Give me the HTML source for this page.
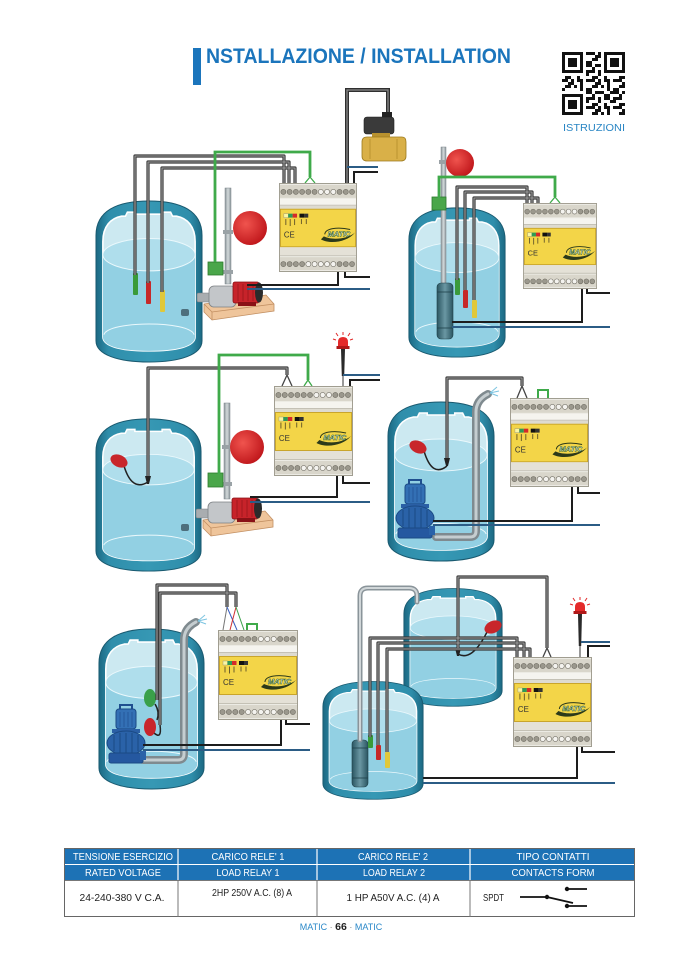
<!DOCTYPE html>
<html><head><meta charset="utf-8"><style>
html,body{margin:0;padding:0;background:#fff;}
svg{display:block;}
text{font-family:"Liberation Sans",sans-serif;}
</style></head><body>
<svg width="678" height="959" viewBox="0 0 678 959" xmlns="http://www.w3.org/2000/svg">
<defs>
 <linearGradient id="tg" x1="0" x2="1" y1="0" y2="0">
  <stop offset="0" stop-color="#1c6983"/><stop offset="0.12" stop-color="#2f8eab"/>
  <stop offset="0.5" stop-color="#3698b4"/><stop offset="0.88" stop-color="#2f8eab"/>
  <stop offset="1" stop-color="#1c6983"/>
 </linearGradient>
 <radialGradient id="rb" cx="0.38" cy="0.38" r="0.7">
  <stop offset="0" stop-color="#f0544e"/><stop offset="1" stop-color="#bd1318"/>
 </radialGradient>
 <linearGradient id="pg" x1="0" x2="1"><stop offset="0" stop-color="#8b959a"/><stop offset="0.5" stop-color="#d3d9db"/><stop offset="1" stop-color="#8b959a"/></linearGradient>
 <linearGradient id="sg" x1="0" x2="1"><stop offset="0" stop-color="#2a5561"/><stop offset="0.5" stop-color="#6a97a3"/><stop offset="1" stop-color="#2a5561"/></linearGradient>
 <pattern id="qr" width="27" height="27" patternUnits="userSpaceOnUse" x="562" y="52">
  <rect width="27" height="27" fill="#fff"/>
  <g fill="#111">
   <rect x="0" y="0" width="6" height="3"/><rect x="9" y="0" width="3" height="6"/>
   <rect x="15" y="0" width="6" height="3"/><rect x="24" y="0" width="3" height="3"/>
   <rect x="3" y="6" width="6" height="3"/><rect x="12" y="6" width="3" height="3"/>
   <rect x="18" y="3" width="3" height="9"/><rect x="0" y="9" width="3" height="6"/>
   <rect x="6" y="12" width="9" height="3"/><rect x="24" y="9" width="3" height="6"/>
   <rect x="15" y="15" width="6" height="6"/><rect x="0" y="18" width="6" height="3"/>
   <rect x="9" y="18" width="3" height="6"/><rect x="21" y="21" width="6" height="3"/>
   <rect x="3" y="24" width="6" height="3"/><rect x="15" y="24" width="3" height="3"/>
   <rect x="24" y="18" width="3" height="3"/><rect x="6" y="3" width="3" height="3"/>
   <rect x="12" y="12" width="3" height="3"/><rect x="21" y="12" width="3" height="3"/>
   <rect x="3" y="15" width="3" height="3"/>
  </g>
 </pattern>

 <symbol id="tank" viewBox="0 0 110 162" preserveAspectRatio="none">
  <path d="M1,36 C1,12 22,2 55,2 C88,2 109,12 109,36 L109,140 C109,154 86,161 55,161 C24,161 1,154 1,140 Z" fill="url(#tg)" stroke="#19596f" stroke-width="1"/>
  <path d="M8,42 C8,27 16,19 27,17 L31,17 L33,13 L41,13 L41,15 L69,15 L69,13 L77,13 L79,17 L83,17 C94,19 102,27 102,42 L102,136 C102,146 82,150 55,150 C28,150 8,146 8,136 Z" fill="#cce9f1" stroke="#ffffff" stroke-width="1.6"/>
  <path d="M8,55 A47,16 0 0,1 102,55 L102,136 C102,146 82,150 55,150 C28,150 8,146 8,136 Z" fill="#92d0e3"/>
  <ellipse cx="55" cy="55" rx="47" ry="16" fill="#afdeec" stroke="#eaf8fc" stroke-width="1"/>
  <path d="M9,134 C14,120 96,120 101,134" fill="none" stroke="#eaf8fc" stroke-width="1"/>
 </symbol>

 <symbol id="ctrl" viewBox="0 0 80 90" preserveAspectRatio="none">
  <rect x="0.5" y="0.5" width="79" height="89" fill="#ecebe4" stroke="#a09d90"/>
  <rect x="1" y="2" width="78" height="13" fill="#d9d6cb"/>
  <g stroke="#6f6c62" stroke-width="0.6" fill="#9b988d">
   <circle cx="4.5" cy="9" r="2.6"/><circle cx="10.9" cy="9" r="2.6"/><circle cx="17.3" cy="9" r="2.6"/>
   <circle cx="23.7" cy="9" r="2.6"/><circle cx="30.1" cy="9" r="2.6"/><circle cx="36.5" cy="9" r="2.6"/>
   <circle cx="42.9" cy="9" r="2.6" fill="#f4f3ef"/><circle cx="49.3" cy="9" r="2.6" fill="#f4f3ef"/><circle cx="55.7" cy="9" r="2.6" fill="#f4f3ef"/>
   <circle cx="62.1" cy="9" r="2.6"/><circle cx="68.5" cy="9" r="2.6"/><circle cx="74.9" cy="9" r="2.6"/>
  </g>
  <rect x="1" y="16" width="78" height="6" fill="#f5f4ef"/>
  <line x1="1" y1="22.5" x2="79" y2="22.5" stroke="#c4c1b5"/>
  <rect x="1" y="23" width="78" height="3" fill="#dedbd0"/>
  <rect x="1.5" y="26.5" width="77" height="38" fill="#f3d548" stroke="#c9a52b"/>
  <rect x="5" y="31" width="4.5" height="4" fill="#fbf6a0" stroke="#888" stroke-width="0.4"/>
  <rect x="9.5" y="31" width="4.5" height="4" fill="#2f9a55"/>
  <rect x="14" y="31" width="4.5" height="4" fill="#d52a2a"/>
  <rect x="21" y="31" width="5" height="4" fill="#111"/>
  <rect x="26" y="31" width="4" height="4" fill="#333"/>
  <g fill="#6b5d2a">
   <rect x="6.5" y="36.5" width="1" height="6"/><rect x="11" y="36.5" width="1" height="7"/>
   <rect x="15.5" y="36.5" width="1" height="6"/><rect x="22.5" y="36.5" width="1" height="5"/>
   <rect x="27.5" y="36.5" width="1" height="5"/>
  </g>
  <text x="5" y="55" font-size="8" fill="#333">CE</text>
  <path d="M43,57 C52,62 70,60 78,50 C70,57 54,58 46,54 Z" fill="#2c3a1a"/>
  <path d="M47,52 C47,46 60,44 73,47" fill="none" stroke="#2c3a1a" stroke-width="1"/>
  <text x="50" y="54" font-size="7.5" font-weight="bold" font-style="italic" fill="#ffffff" stroke="#2a5d2a" stroke-width="0.5">MATIC</text>
  <rect x="1" y="65" width="78" height="8" fill="#e4e1d7"/>
  <line x1="1" y1="73.5" x2="79" y2="73.5" stroke="#c4c1b5"/>
  <rect x="1" y="75" width="78" height="13" fill="#d9d6cb"/>
  <g stroke="#6f6c62" stroke-width="0.6" fill="#9b988d">
   <circle cx="4.5" cy="82" r="2.6"/><circle cx="10.9" cy="82" r="2.6"/><circle cx="17.3" cy="82" r="2.6"/>
   <circle cx="23.7" cy="82" r="2.6"/>
   <circle cx="30.1" cy="82" r="2.6" fill="#f4f3ef"/><circle cx="36.5" cy="82" r="2.6" fill="#f4f3ef"/>
   <circle cx="42.9" cy="82" r="2.6" fill="#f4f3ef"/><circle cx="49.3" cy="82" r="2.6" fill="#f4f3ef"/><circle cx="55.7" cy="82" r="2.6" fill="#f4f3ef"/>
   <circle cx="62.1" cy="82" r="2.6"/><circle cx="68.5" cy="82" r="2.6"/><circle cx="74.9" cy="82" r="2.6"/>
  </g>
 </symbol>

 <symbol id="bp" viewBox="0 0 40 62" preserveAspectRatio="none">
  <path d="M14,7 V2 H26 V7" stroke="#1f4f8f" stroke-width="2" fill="none"/>
  <rect x="10" y="6" width="20" height="20" rx="3" fill="#3370b5" stroke="#1b4a85"/>
  <g stroke="#24589a" stroke-width="1"><line x1="14" y1="9" x2="14" y2="24"/><line x1="18" y1="9" x2="18" y2="24"/><line x1="22" y1="9" x2="22" y2="24"/><line x1="26" y1="9" x2="26" y2="24"/></g>
  <rect x="6" y="26" width="28" height="4" fill="#2a5fa5"/>
  <ellipse cx="20" cy="40" rx="19" ry="12" fill="#2a62a8" stroke="#1b4a85"/>
  <g stroke="#1b4a85" stroke-width="1"><line x1="8" y1="32" x2="8" y2="48"/><line x1="14" y1="30" x2="14" y2="50"/><line x1="20" y1="30" x2="20" y2="50"/><line x1="26" y1="30" x2="26" y2="50"/><line x1="32" y1="32" x2="32" y2="48"/></g>
  <rect x="3" y="50" width="34" height="10" rx="2" fill="#2558a0" stroke="#1b4a85"/>
  <rect x="34" y="48" width="6" height="9" fill="#2a62a8"/>
 </symbol>

 <g id="spump">
  <polygon points="204,304 266,295 274,304 274,311 212,320 204,312" fill="#efc59b" stroke="#c28f62" stroke-width="0.8"/>
  <polyline points="204,304 212,312 274,304" fill="none" stroke="#c28f62" stroke-width="0.8"/>
  <line x1="212" y1="312" x2="212" y2="320" stroke="#c28f62" stroke-width="0.8"/>
  <rect x="197" y="293" width="15" height="9" rx="1.5" fill="#a9adb0" stroke="#7a7e81" stroke-width="0.6"/>
  <rect x="209" y="286" width="27" height="21" rx="5" fill="#c3c6c9" stroke="#7c8084" stroke-width="0.8"/>
  <rect x="233" y="282" width="26" height="21" rx="2" fill="#c7232a" stroke="#8a1116" stroke-width="0.8"/>
  <g stroke="#8a1116" stroke-width="0.6"><line x1="238" y1="284" x2="238" y2="301"/><line x1="243" y1="284" x2="243" y2="301"/><line x1="248" y1="284" x2="248" y2="301"/><line x1="253" y1="284" x2="253" y2="301"/></g>
  <ellipse cx="259" cy="292.5" rx="4" ry="10" fill="#2b2b2b"/>
  <rect x="238" y="302" width="18" height="4" fill="#8a1116"/>
 </g>

 <g id="tubes" fill="none" stroke-linejoin="round">
  <path d="M135,275 V156 H284 V183"/><path d="M148,283 V162 H289 V183"/><path d="M162,292 V168 H295 V183"/>
  <path d="M457,280 V187 H527 V203"/><path d="M465,290 V192 H532 V203"/><path d="M474,300 V198 H538 V203"/>
  <path d="M370,737 V638 H517 V657"/><path d="M378,745 V643 H524 V657"/><path d="M387,752 V649 H530 V657"/>
  <path d="M157,700 V585 H227 V607"/><path d="M160,725 V593 H236 V607"/>
  <path d="M148,476 V368 H287 V375"/>
  <path d="M447,458 V378 H522 V386"/>
  <path d="M458,648 V577 H547 V648"/>
 </g>
</defs>

<!-- Title -->
<rect x="193" y="48" width="8" height="37" fill="#1b75bc"/>
<text x="206" y="63" font-size="21" font-weight="bold" fill="#1b75bc" textLength="305" lengthAdjust="spacingAndGlyphs">NSTALLAZIONE / INSTALLATION</text>

<!-- QR -->
<rect x="562" y="52" width="63" height="63" fill="url(#qr)"/>
<g>
 <rect x="562" y="52" width="24" height="24" fill="#fff"/><rect x="562" y="52" width="21" height="21" fill="#111"/><rect x="565" y="55" width="15" height="15" fill="#fff"/><rect x="568" y="58" width="9" height="9" fill="#111"/>
 <rect x="601" y="52" width="24" height="24" fill="#fff"/><rect x="604" y="52" width="21" height="21" fill="#111"/><rect x="607" y="55" width="15" height="15" fill="#fff"/><rect x="610" y="58" width="9" height="9" fill="#111"/>
 <rect x="562" y="91" width="24" height="24" fill="#fff"/><rect x="562" y="94" width="21" height="21" fill="#111"/><rect x="565" y="97" width="15" height="15" fill="#fff"/><rect x="568" y="100" width="9" height="9" fill="#111"/>
</g>
<text x="563" y="131" font-size="10" fill="#2a86c4" textLength="62" lengthAdjust="spacingAndGlyphs">ISTRUZIONI</text>

<!-- Tanks -->
<use href="#tank" x="95" y="199" width="108" height="164"/>
<use href="#tank" x="408" y="206" width="98" height="152"/>
<use href="#tank" x="95" y="417" width="107" height="155"/>
<use href="#tank" x="387" y="400" width="108" height="162"/>
<use href="#tank" x="98" y="627" width="107" height="163"/>
<use href="#tank" x="403" y="587" width="100" height="120"/>
<use href="#tank" x="322" y="680" width="102" height="120"/>

<!-- nubs -->
<rect x="181" y="309" width="8" height="7" rx="2" fill="#4d6f7d"/>
<rect x="181" y="524" width="8" height="7" rx="2" fill="#4d6f7d"/>

<!-- surface pumps -->
<use href="#spump"/>
<use href="#spump" transform="translate(-1,216)"/>

<!-- vertical pipes + balls -->
<rect x="225" y="188" width="6" height="96" fill="url(#pg)" stroke="#7d868a" stroke-width="0.5"/>
<rect x="223" y="230" width="10" height="4" fill="#9aa2a6"/><rect x="223" y="270" width="10" height="4" fill="#9aa2a6"/>
<circle cx="250" cy="228" r="17" fill="url(#rb)"/>
<rect x="208" y="262" width="15" height="13" fill="#4aa64a" stroke="#2d7a2d" stroke-width="0.8"/>

<rect x="224" y="403" width="6" height="96" fill="url(#pg)" stroke="#7d868a" stroke-width="0.5"/>
<rect x="222" y="445" width="10" height="4" fill="#9aa2a6"/><rect x="222" y="482" width="10" height="4" fill="#9aa2a6"/>
<circle cx="247" cy="447" r="17" fill="url(#rb)"/>
<rect x="208" y="473" width="15" height="14" fill="#4aa64a" stroke="#2d7a2d" stroke-width="0.8"/>

<rect x="441" y="147" width="5" height="137" fill="url(#pg)" stroke="#7d868a" stroke-width="0.5"/>
<rect x="439" y="160" width="9" height="4" fill="#9aa2a6"/>
<circle cx="460" cy="163" r="14" fill="url(#rb)"/>
<rect x="432" y="197" width="14" height="13" fill="#4aa64a" stroke="#2d7a2d" stroke-width="0.8"/>

<!-- submersible cylinders -->
<rect x="437" y="283" width="16" height="56" rx="4" fill="url(#sg)" stroke="#1f414a" stroke-width="0.6"/>
<g stroke="#1f414a" stroke-width="0.8"><line x1="437" y1="292" x2="453" y2="292"/><line x1="437" y1="328" x2="453" y2="328"/></g>
<rect x="352" y="740" width="16" height="47" rx="4" fill="url(#sg)" stroke="#1f414a" stroke-width="0.6"/>
<g stroke="#1f414a" stroke-width="0.8"><line x1="352" y1="748" x2="368" y2="748"/><line x1="352" y1="778" x2="368" y2="778"/></g>

<!-- discharge pipes -->
<g fill="none" stroke-linecap="round">
 <path d="M436,537 H470 Q476,537 476,531 V412 Q476,400 488,394" stroke="#7f8a8f" stroke-width="8"/>
 <path d="M436,537 H470 Q476,537 476,531 V412 Q476,400 488,394" stroke="#c5cdd0" stroke-width="3"/>
 <path d="M143,760 H178 Q184,760 184,754 V640 Q184,628 196,622" stroke="#7f8a8f" stroke-width="8"/>
 <path d="M143,760 H178 Q184,760 184,754 V640 Q184,628 196,622" stroke="#c5cdd0" stroke-width="3"/>
 <path d="M360,740 V596 Q360,588 368,588 H409 Q417,588 417,596 V602" stroke="#8a949a" stroke-width="5"/>
 <path d="M360,740 V596 Q360,588 368,588 H409 Q417,588 417,596 V602" stroke="#d0d6d8" stroke-width="2"/>
</g>
<g stroke="#7cc4e0" stroke-width="1">
 <line x1="490" y1="393" x2="497" y2="387"/><line x1="490" y1="393" x2="499" y2="391"/><line x1="490" y1="393" x2="498" y2="396"/>
 <line x1="198" y1="621" x2="205" y2="615"/><line x1="198" y1="621" x2="207" y2="619"/><line x1="198" y1="621" x2="206" y2="624"/>
</g>

<!-- blue pumps -->
<use href="#bp" x="395" y="478" width="40" height="62"/>
<use href="#bp" x="106" y="703" width="40" height="62"/>

<!-- floats -->
<g fill="none" stroke="#222" stroke-width="1.5">
 <path d="M124,466 Q132,492 148,482"/>
 <path d="M424,451 Q432,478 447,466"/>
 <path d="M487,632 Q472,662 458,654"/>
 <path d="M155,704 Q160,712 157,720"/>
 <path d="M154,733 Q162,740 160,725"/>
</g>
<ellipse cx="119" cy="461" rx="9" ry="6" transform="rotate(25 119 461)" fill="#c8262b"/>
<ellipse cx="418" cy="447" rx="9" ry="6" transform="rotate(25 418 447)" fill="#c8262b"/>
<ellipse cx="493" cy="627" rx="9" ry="6" transform="rotate(-25 493 627)" fill="#c8262b"/>
<ellipse cx="150" cy="698" rx="6" ry="9" fill="#3aa04a"/>
<ellipse cx="150" cy="727" rx="6" ry="9" fill="#c8262b"/>
<g fill="#222">
 <path d="M145,476 H151 L149,484 H147 Z"/>
 <path d="M444,458 H450 L448,466 H446 Z"/>
 <path d="M455,648 H461 L459,656 H457 Z"/>
</g>

<!-- probes -->
<rect x="133" y="273" width="5" height="22" rx="1" fill="#3a9a3a"/>
<rect x="146" y="281" width="5" height="23" rx="1" fill="#c62828"/>
<rect x="160" y="290" width="5" height="22" rx="1" fill="#e0c83a"/>
<rect x="455" y="278" width="5" height="17" rx="1" fill="#3a9a3a"/>
<rect x="463" y="290" width="5" height="18" rx="1" fill="#c62828"/>
<rect x="472" y="300" width="5" height="18" rx="1" fill="#e0c83a"/>
<rect x="368" y="735" width="5" height="13" rx="1" fill="#3a9a3a"/>
<rect x="376" y="745" width="5" height="15" rx="1" fill="#c62828"/>
<rect x="385" y="752" width="5" height="16" rx="1" fill="#e0c83a"/>

<!-- tube wires -->
<use href="#tubes" stroke="#3a3a3a" stroke-width="3.2"/>
<use href="#tubes" stroke="#9c9c9c" stroke-width="1.1"/>

<!-- green wires -->
<g fill="none" stroke="#3faa4a" stroke-width="2.8">
 <path d="M215,262 V152 H310 V177"/>
 <path d="M439,198 V177 H555 V197"/>
 <path d="M219,474 V355 H308 V380"/>
</g>
<g fill="none" stroke="#3faa4a" stroke-width="1.3">
 <path d="M310,177 L305,183 M310,177 L315,183"/>
 <path d="M555,197 L550,203 M555,197 L560,203"/>
 <path d="M308,380 L304,386 M308,380 L312,386"/>
</g>
<g fill="none" stroke="#444" stroke-width="1.3">
 <path d="M287,375 L282,386 M287,375 L292,386"/>
 <path d="M522,386 L517,398 M522,386 L527,398"/>
 <path d="M547,648 L543,657 M547,648 L551,657"/>
</g>
<!-- D5 colored fan -->
<g fill="none" stroke-width="1">
 <path d="M227,607 L223,630" stroke="#777"/>
 <path d="M227,607 L237,630" stroke="#3a5fc0"/>
 <path d="M236,607 L230,630" stroke="#d03030"/>
 <path d="M236,607 L244,630" stroke="#3aa04a"/>
</g>
<g fill="none" stroke="#3faa4a" stroke-width="2">
 <path d="M538,398 V390 H548 V398"/>
 <path d="M247,631 V624 H257 V631"/>
</g>

<!-- valve -->
<path d="M347,183 V90 H388 V115" fill="none" stroke="#2f2f2f" stroke-width="4"/>
<path d="M347,183 V90 H388 V115" fill="none" stroke="#8a8a8a" stroke-width="1.3"/>
<rect x="382" y="112" width="10" height="7" fill="#222"/>
<rect x="364" y="117" width="30" height="17" rx="3" fill="#3a3a3a" stroke="#1e1e1e" stroke-width="0.6"/>
<rect x="372" y="133" width="18" height="5" fill="#b8912e"/>
<path d="M362,142 Q362,137 367,137 H402 Q406,137 406,142 V156 Q406,161 401,161 H367 Q362,161 362,156 Z" fill="#d9b048" stroke="#9c7a1e" stroke-width="0.8"/>
<g stroke="#b58f2a" stroke-width="0.8"><line x1="370" y1="139" x2="370" y2="159"/><line x1="397" y1="139" x2="397" y2="159"/></g>

<!-- controllers -->
<use href="#ctrl" x="279" y="183" width="78" height="89"/>
<use href="#ctrl" x="523" y="203" width="74" height="86"/>
<use href="#ctrl" x="274" y="386" width="79" height="90"/>
<use href="#ctrl" x="510" y="398" width="79" height="89"/>
<use href="#ctrl" x="218" y="630" width="80" height="90"/>
<use href="#ctrl" x="513" y="657" width="79" height="90"/>

<!-- beacons -->
<g transform="translate(343,336)">
 <g stroke="#e02828" stroke-width="1"><line x1="0" y1="-1" x2="0" y2="-4"/><line x1="-5" y1="0" x2="-7" y2="-3"/><line x1="5" y1="0" x2="7" y2="-3"/><line x1="-7" y1="4" x2="-10" y2="3"/><line x1="7" y1="4" x2="10" y2="3"/></g>
 <path d="M-5,10 V6 Q-5,1 0,1 Q5,1 5,6 V10 Z" fill="#e42a2a"/>
 <rect x="-6.5" y="10" width="13" height="3" fill="#b01818"/>
 <path d="M-2,13 H2 L1.2,40 H-1.2 Z" fill="#2a2a2a"/>
 <line x1="0" y1="40" x2="0" y2="50" stroke="#555" stroke-width="1.2"/>
</g>
<g transform="translate(580,601)">
 <g stroke="#e02828" stroke-width="1"><line x1="0" y1="-1" x2="0" y2="-4"/><line x1="-5" y1="0" x2="-7" y2="-3"/><line x1="5" y1="0" x2="7" y2="-3"/><line x1="-7" y1="4" x2="-10" y2="3"/><line x1="7" y1="4" x2="10" y2="3"/></g>
 <path d="M-5,10 V6 Q-5,1 0,1 Q5,1 5,6 V10 Z" fill="#e42a2a"/>
 <rect x="-6.5" y="10" width="13" height="3" fill="#b01818"/>
 <path d="M-2,13 H2 L1.2,45 H-1.2 Z" fill="#2a2a2a"/>
 <line x1="0" y1="45" x2="0" y2="56" stroke="#555" stroke-width="1.2"/>
</g>

<!-- power lines -->
<g fill="none" stroke="#1d1d1d" stroke-width="2">
 <path d="M338,272 V285 H247"/><path d="M345,272 V277 H370"/><path d="M354,183 V172 H378"/>
 <path d="M582,289 V322 H452"/><path d="M587,289 V293 H610"/>
 <path d="M337,476 V497 H250"/><path d="M343,476 V483 H370"/><path d="M350,386 V380 H380"/>
 <path d="M572,487 V521 H433"/><path d="M578,487 V493 H600"/>
 <path d="M281,720 V745 H143"/><path d="M286,720 V724 H310"/>
 <path d="M577,747 V778 H423"/><path d="M582,747 V752 H615"/><path d="M588,657 V646 H610"/>
</g>
<g fill="none" stroke="#2b5c85" stroke-width="2">
 <path d="M247,289 H370"/><path d="M347,167 H378"/>
 <path d="M452,327 H610"/>
 <path d="M250,502 H370"/><path d="M343,375 H380"/>
 <path d="M433,525 H600"/>
 <path d="M143,750 H310"/>
 <path d="M423,783 H615"/><path d="M581,642 H610"/>
</g>

<!-- Table -->
<rect x="64" y="848" width="571" height="32" fill="#1d72b5"/>
<line x1="64" y1="864.5" x2="635" y2="864.5" stroke="#ffffff" stroke-width="1"/>
<g stroke="#ffffff" stroke-width="1.2">
 <line x1="178" y1="848" x2="178" y2="880"/><line x1="317" y1="848" x2="317" y2="880"/><line x1="470" y1="848" x2="470" y2="880"/>
</g>
<rect x="64.5" y="880.5" width="570" height="36" fill="#ffffff" stroke="#777" stroke-width="1"/>
<rect x="64.5" y="848.5" width="570" height="68" fill="none" stroke="#666" stroke-width="1"/>
<g stroke="#777" stroke-width="1">
 <line x1="178" y1="880" x2="178" y2="917"/><line x1="317" y1="880" x2="317" y2="917"/><line x1="470" y1="880" x2="470" y2="917"/>
</g>
<g fill="#ffffff" font-size="10" text-anchor="middle">
 <text x="123" y="860" textLength="100" lengthAdjust="spacingAndGlyphs">TENSIONE ESERCIZIO</text>
 <text x="248" y="860" textLength="73" lengthAdjust="spacingAndGlyphs">CARICO RELE' 1</text>
 <text x="393" y="860" textLength="70" lengthAdjust="spacingAndGlyphs">CARICO RELE' 2</text>
 <text x="553" y="860" textLength="73" lengthAdjust="spacingAndGlyphs">TIPO CONTATTI</text>
 <text x="123" y="876" textLength="76" lengthAdjust="spacingAndGlyphs">RATED VOLTAGE</text>
 <text x="248" y="876" textLength="63" lengthAdjust="spacingAndGlyphs">LOAD RELAY 1</text>
 <text x="394" y="876" textLength="62" lengthAdjust="spacingAndGlyphs">LOAD RELAY 2</text>
 <text x="553" y="876" textLength="83" lengthAdjust="spacingAndGlyphs">CONTACTS  FORM</text>
</g>
<g fill="#222" font-size="10.5" text-anchor="middle" font-weight="500">
 <text x="122" y="901" textLength="85" lengthAdjust="spacingAndGlyphs">24-240-380 V C.A.</text>
 <text x="252" y="896" textLength="80" lengthAdjust="spacingAndGlyphs">2HP 250V A.C. (8) A</text>
 <text x="393" y="901" textLength="93" lengthAdjust="spacingAndGlyphs">1 HP A50V A.C. (4) A</text>
</g>
<text x="483" y="901" font-size="10.5" fill="#222" textLength="21" lengthAdjust="spacingAndGlyphs">SPDT</text>
<g stroke="#111" stroke-width="1.8" fill="#111">
 <line x1="520" y1="897" x2="547" y2="897"/>
 <line x1="547" y1="897" x2="573" y2="903"/>
 <line x1="567" y1="889" x2="587" y2="889"/>
 <line x1="567" y1="906" x2="587" y2="906"/>
 <circle cx="547" cy="897" r="2.2" stroke="none"/>
 <circle cx="567" cy="889" r="2.2" stroke="none"/>
 <circle cx="567" cy="906" r="2.2" stroke="none"/>
</g>

<!-- Footer -->
<text x="341" y="930" font-size="9" text-anchor="middle" fill="#2a88c8">MATIC <tspan fill="#888">·</tspan> <tspan fill="#222" font-size="10.5" font-weight="bold">66</tspan> <tspan fill="#888">·</tspan> MATIC</text>
</svg>
</body></html>
